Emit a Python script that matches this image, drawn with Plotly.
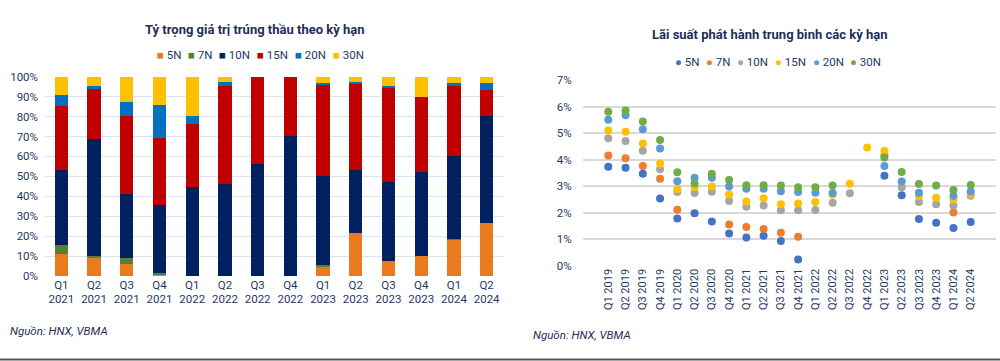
import plotly.graph_objects as go

# ---------------- Left chart data (share of winning bid value by tenor, %) ----------------
quarters_left = ["Q1<br>2021", "Q2<br>2021", "Q3<br>2021", "Q4<br>2021", "Q1<br>2022", "Q2<br>2022",
                 "Q3<br>2022", "Q4<br>2022", "Q1<br>2023", "Q2<br>2023", "Q3<br>2023", "Q4<br>2023",
                 "Q1<br>2024", "Q2<br>2024"]
share_5N = [10.8, 9.2, 6.0, 1.0, 0, 0, 0, 0, 4.3, 21.8, 7.5, 10.0, 18.3, 26.7]
share_7N = [4.7, 0.6, 2.8, 0.3, 0, 0, 0, 0, 1.2, 0, 0, 0, 0.3, 0]
share_10N = [37.8, 58.7, 32.2, 34.4, 44.7, 46.3, 56.0, 70.2, 44.7, 31.2, 39.5, 42.0, 41.6, 53.5]
share_15N = [31.9, 25.3, 39.2, 33.6, 31.5, 49.0, 44.0, 29.8, 45.5, 43.7, 47.5, 37.7, 35.0, 13.1]
share_20N = [5.6, 1.5, 7.3, 16.7, 4.0, 2.0, 0, 0, 1.3, 0.8, 1.0, 0, 1.6, 3.7]
share_30N = [9.2, 4.7, 12.5, 14.0, 19.8, 2.7, 0, 0, 3.0, 2.5, 4.5, 10.3, 3.2, 3.0]

# ---------------- Right chart data (average issuance yield by tenor, %) ----------------
quarters_right = ["Q1 2019", "Q2 2019", "Q3 2019", "Q4 2019", "Q1 2020", "Q2 2020", "Q3 2020",
                  "Q4 2020", "Q1 2021", "Q2 2021", "Q3 2021", "Q4 2021", "Q1 2022", "Q2 2022",
                  "Q3 2022", "Q4 2022", "Q1 2023", "Q2 2023", "Q3 2023", "Q4 2023", "Q1 2024",
                  "Q2 2024"]
rate_5N = [3.73, 3.69, 3.47, 2.53, 1.78, 1.98, 1.67, 1.21, 1.06, 1.13, 0.93, 0.23, None, None,
           None, None, 3.39, 2.66, 1.76, 1.62, 1.42, 1.65]
rate_7N = [4.15, 4.05, 3.76, 3.28, 2.11, None, None, 1.55, 1.46, 1.38, 1.24, 1.09, None, None,
           None, None, 4.15, None, None, None, 2.01, None]
rate_10N = [4.80, 4.70, 4.33, 3.64, 2.78, 2.74, 2.79, 2.44, 2.22, 2.27, 2.09, 2.09, 2.10, 2.37,
            2.73, None, None, 2.96, 2.40, 2.32, 2.27, 2.64]
rate_15N = [5.10, 5.05, 4.61, 3.84, 2.88, 2.96, 2.99, 2.68, 2.42, 2.54, 2.32, 2.34, 2.40, 2.68,
            3.09, 4.46, 4.32, None, 2.63, 2.56, 2.50, 2.69]
rate_20N = [5.50, 5.67, 5.14, 4.42, 3.18, 3.32, 3.32, 2.99, 2.90, 2.90, 2.81, 2.78, 2.75, 2.74,
            None, None, 3.76, 3.17, 2.75, None, 2.64, 2.80]
rate_30N = [5.80, 5.85, 5.44, 4.74, 3.52, 3.10, 3.47, 3.23, 3.03, 3.03, 3.02, 2.96, 2.96, 3.02,
            None, None, 4.08, 3.53, 3.08, 3.02, 2.85, 3.04]

tenors = ["5N", "7N", "10N", "15N", "20N", "30N"]
left_series = [share_5N, share_7N, share_10N, share_15N, share_20N, share_30N]
right_series = [rate_5N, rate_7N, rate_10N, rate_15N, rate_20N, rate_30N]
left_colors = ["#E97A1E", "#548235", "#00205F", "#C00000", "#0070C0", "#FFC000"]
right_colors = ["#4472C4", "#ED7D31", "#A5A5A5", "#FFC000", "#5B9BD5", "#70AD47"]

FONT = "Roboto, Arial, sans-serif"
NAVY = "#1F3864"
TITLE = "#1F2D5A"

fig = go.Figure()

for name, vals, col in zip(tenors, left_series, left_colors):
    fig.add_trace(go.Bar(x=quarters_left, y=vals, name=name, marker_color=col,
                         marker_line_width=0, xaxis="x", yaxis="y", showlegend=False))

for name, vals, col in zip(tenors, right_series, right_colors):
    fig.add_trace(go.Scatter(x=quarters_right, y=vals, name=name, mode="markers",
                             marker=dict(color=col, size=8), xaxis="x2", yaxis="y2",
                             showlegend=False))

H = 361.0
def py(p):
    return 1 - p / H

fig.update_layout(
    width=1000, height=361,
    margin=dict(l=0, r=0, t=0, b=0, autoexpand=False),
    paper_bgcolor="white", plot_bgcolor="white",
    font=dict(family=FONT, color=NAVY, size=12),
    barmode="stack", bargap=0.59,
    showlegend=False,
    xaxis=dict(domain=[0.045, 0.503], anchor="y", showgrid=False, showline=False,
               ticks="", tickfont=dict(size=11.5, color=NAVY), automargin=False),
    yaxis=dict(domain=[py(276), py(76.7)], anchor="x", range=[0, 100], dtick=10,
               ticksuffix="%", showgrid=True, gridcolor="#DAE3F3", gridwidth=1,
               zeroline=False, showline=False, ticks="", ticklabelstandoff=6,
               tickfont=dict(size=11.5, color=NAVY), automargin=False),
    xaxis2=dict(domain=[0.5826, 0.9964], anchor="y2", showgrid=False, showline=False,
                ticks="", tickangle=-90, tickfont=dict(size=11, color=NAVY), automargin=False),
    yaxis2=dict(domain=[py(265.7), py(80)], anchor="x2", range=[0, 7], dtick=1,
                ticksuffix="%", showgrid=True, gridcolor="#D9D9D9", gridwidth=1.5,
                zeroline=False, showline=False, ticks="", ticklen=0, ticklabelstandoff=10,
                tickfont=dict(size=11.5, color=NAVY), automargin=False),
)

# Titles
fig.add_annotation(text="<b>Tỷ trọng giá trị trúng thầu theo kỳ hạn</b>", xref="paper", yref="paper",
                   x=0.2545, y=py(30), xanchor="center", yanchor="middle", showarrow=False,
                   font=dict(size=13, color=TITLE, family=FONT))
fig.add_annotation(text="<b>Lãi suất phát hành trung bình các kỳ hạn</b>", xref="paper", yref="paper",
                   x=0.769, y=py(35), xanchor="center", yanchor="middle", showarrow=False,
                   font=dict(size=13, color=TITLE, family=FONT))

# Legends (text-based)
left_leg_x = [155, 186, 217, 255, 293, 331]
for name, col, lx in zip(tenors, left_colors, left_leg_x):
    fig.add_annotation(text=f"<span style='color:{col}'>■</span> {name}", xref="paper", yref="paper",
                       x=lx / 1000.0, y=py(55), xanchor="left", yanchor="middle", showarrow=False,
                       font=dict(size=11.5, color=NAVY, family=FONT))
right_leg_x = [673, 704, 735, 773, 811, 848]
for name, col, lx in zip(tenors, right_colors, right_leg_x):
    fig.add_annotation(text=f"<span style='color:{col}'>●</span> {name}", xref="paper", yref="paper",
                       x=lx / 1000.0, y=py(62), xanchor="left", yanchor="middle", showarrow=False,
                       font=dict(size=11.5, color=NAVY, family=FONT))

# Sources
fig.add_annotation(text="<i>Nguồn: HNX, VBMA</i>", xref="paper", yref="paper",
                   x=0.008, y=py(331), xanchor="left", yanchor="middle", showarrow=False,
                   font=dict(size=11.5, color=TITLE, family=FONT))
fig.add_annotation(text="<i>Nguồn: HNX, VBMA</i>", xref="paper", yref="paper",
                   x=0.531, y=py(335), xanchor="left", yanchor="middle", showarrow=False,
                   font=dict(size=11.5, color=TITLE, family=FONT))
fig.add_shape(type="line", xref="paper", yref="paper", x0=0, x1=1, y0=py(359.5), y1=py(359.5),
              line=dict(color="#555555", width=2))

fig.write_html("out.html", config={"displayModeBar": False},
               post_script="document.body.style.margin='0';document.body.style.padding='0';")
